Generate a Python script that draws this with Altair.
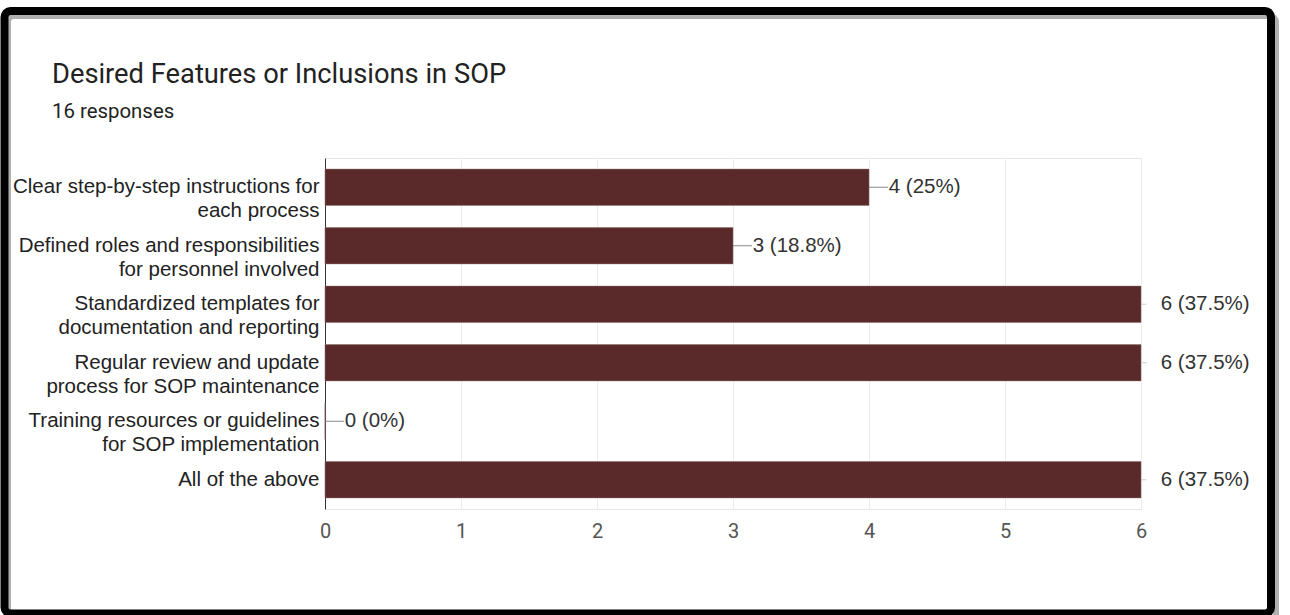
import altair as alt
import pandas as pd

title_text = "Desired Features or Inclusions in SOP"
subtitle_text = "16 responses"
total_responses = 16

categories = [
    "Clear step-by-step instructions for\neach process",
    "Defined roles and responsibilities\nfor personnel involved",
    "Standardized templates for\ndocumentation and reporting",
    "Regular review and update\nprocess for SOP maintenance",
    "Training resources or guidelines\nfor SOP implementation",
    "All of the above",
]
counts = [4, 3, 6, 6, 0, 6]
x_ticks = [0, 1, 2, 3, 4, 5, 6]
x_grid = [0, 0.5, 1, 1.5, 2, 2.5, 3, 3.5, 4, 4.5, 5, 5.5, 6]


def fmt_label(c):
    p = round(c / total_responses * 100, 1)
    s = f"{p:.1f}".rstrip("0").rstrip(".")
    return f"{c} ({s}%)"


labels = [fmt_label(c) for c in counts]
x_max = max(x_ticks)

df = pd.DataFrame({"category": categories, "count": counts, "label": labels})

W, H = 816, 351
PAD = {"left": 325, "top": 158, "right": 149, "bottom": 106}

base = alt.Chart(df).transform_calculate(
    lead_end=f"datum.count >= {x_max} ? datum.count + 0.04 : datum.count + 0.14",
    label_x="datum.count + 0.145",
    near_max=f"datum.count >= {x_max}",
)

y_enc = alt.Y(
    "category:N",
    sort=categories,
    scale=alt.Scale(paddingInner=0.38, paddingOuter=0.19),
    axis=alt.Axis(
        title=None,
        labelExpr="split(datum.label, '\\n')",
        labelFont="Liberation Sans",
        labelFontSize=20.5,
        labelColor="#222222",
        labelLineHeight=24,
        labelPadding=6,
        labelLimit=400,
        ticks=False,
        domainColor="#333333",
        domainWidth=1,
        grid=False,
    ),
)

x_enc = alt.X(
    "count:Q",
    scale=alt.Scale(domain=[0, x_max], nice=False),
    axis=alt.Axis(
        title=None,
        values=x_grid,
        format="d",
        labelExpr="datum.value % 1 === 0 ? datum.label : ''",
        labelFlush=False,
        labelAlign="center",
        labelFont="Roboto",
        labelFontSize=20,
        labelColor="#555555",
        labelPadding=12,
        ticks=False,
        domain=False,
        grid=True,
        gridColor="#ececec",
        gridWidth=1,
    ),
)

bars = base.mark_bar(color="#5a2a2a", stroke="#8a6a6a", strokeWidth=0.5).encode(
    x=x_enc, y=y_enc
)

leaders = base.mark_rule(strokeWidth=1).encode(
    x="count:Q",
    x2="lead_end:Q",
    y=alt.Y("category:N", sort=categories),
    color=alt.condition("datum.near_max", alt.value("#cccccc"), alt.value("#888888")),
)

value_text = base.mark_text(
    align="left", baseline="middle", font="Liberation Sans", fontSize=20.5, color="#333333"
).encode(
    x="label_x:Q",
    y=alt.Y("category:N", sort=categories),
    text="label:N",
)

one = pd.DataFrame({"t": [title_text], "s": [subtitle_text]})

title_mark = alt.Chart(one).mark_text(
    align="left", baseline="alphabetic", font="Roboto", fontSize=27.3, color="#222222"
).encode(x=alt.value(52 - PAD["left"]), y=alt.value(83 - PAD["top"]), text="t:N")

subtitle_mark = alt.Chart(one).mark_text(
    align="left", baseline="alphabetic", font="Roboto", fontSize=20.4, color="#222222"
).encode(x=alt.value(52 - PAD["left"]), y=alt.value(118 - PAD["top"]), text="s:N")

shadow = alt.Chart(one).mark_rect(
    fillOpacity=0, stroke="#b0b0b0", strokeWidth=6, cornerRadius=6
).encode(
    x=alt.value(8 - PAD["left"]),
    x2=alt.value(1276 - PAD["left"]),
    y=alt.value(16 - PAD["top"]),
    y2=alt.value(620 - PAD["top"]),
)

border = alt.Chart(one).mark_rect(
    fillOpacity=0, stroke="#000000", strokeWidth=8, cornerRadius=6
).encode(
    x=alt.value(4.5 - PAD["left"]),
    x2=alt.value(1271 - PAD["left"]),
    y=alt.value(11 - PAD["top"]),
    y2=alt.value(613.5 - PAD["top"]),
)

chart = (
    alt.layer(bars, leaders, value_text, title_mark, subtitle_mark, shadow, border)
    .properties(
        width=W,
        height=H,
        autosize=alt.AutoSizeParams(type="none"),
        padding=PAD,
        background="white",
    )
    .configure_view(stroke="#e6e6e6", strokeWidth=1)
)

chart.save("out.html", embed_options={"renderer": "svg", "actions": False})
